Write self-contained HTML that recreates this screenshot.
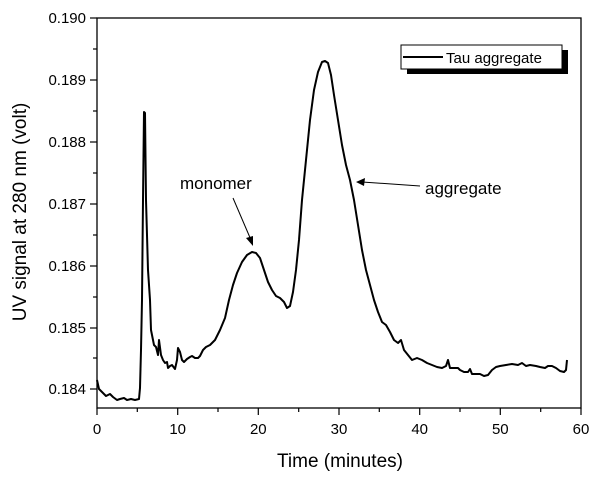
<!DOCTYPE html>
<html><head><style>body{margin:0;background:#fff}svg{display:block}</style></head><body>
<svg width="615" height="477" viewBox="0 0 615 477" xmlns="http://www.w3.org/2000/svg" font-family="Liberation Sans, Arial, sans-serif">
<rect x="97" y="18" width="484" height="390" fill="none" stroke="#000" stroke-width="1.3"/>
<g stroke="#000" stroke-width="1.2">
<line x1="97" y1="408" x2="97" y2="415"/><line x1="177.7" y1="408" x2="177.7" y2="415"/><line x1="258.3" y1="408" x2="258.3" y2="415"/><line x1="339" y1="408" x2="339" y2="415"/><line x1="419.7" y1="408" x2="419.7" y2="415"/><line x1="500.3" y1="408" x2="500.3" y2="415"/><line x1="581" y1="408" x2="581" y2="415"/>
<line x1="137.3" y1="408" x2="137.3" y2="412"/><line x1="218" y1="408" x2="218" y2="412"/><line x1="298.7" y1="408" x2="298.7" y2="412"/><line x1="379.3" y1="408" x2="379.3" y2="412"/><line x1="460" y1="408" x2="460" y2="412"/><line x1="540.7" y1="408" x2="540.7" y2="412"/>
<line x1="90" y1="18" x2="97" y2="18"/><line x1="90" y1="80" x2="97" y2="80"/><line x1="90" y1="142" x2="97" y2="142"/><line x1="90" y1="204" x2="97" y2="204"/><line x1="90" y1="266" x2="97" y2="266"/><line x1="90" y1="328" x2="97" y2="328"/><line x1="90" y1="389" x2="97" y2="389"/>
<line x1="93" y1="49" x2="97" y2="49"/><line x1="93" y1="111" x2="97" y2="111"/><line x1="93" y1="173" x2="97" y2="173"/><line x1="93" y1="235" x2="97" y2="235"/><line x1="93" y1="297" x2="97" y2="297"/><line x1="93" y1="358" x2="97" y2="358"/>
</g>
<g font-size="15" text-anchor="middle" fill="#000">
<text x="97" y="434">0</text><text x="177.7" y="434">10</text><text x="258.3" y="434">20</text><text x="339" y="434">30</text><text x="419.7" y="434">40</text><text x="500.3" y="434">50</text><text x="581" y="434">60</text>
</g>
<g font-size="15" text-anchor="end" fill="#000">
<text x="86" y="23">0.190</text><text x="86" y="85">0.189</text><text x="86" y="147">0.188</text><text x="86" y="209">0.187</text><text x="86" y="271">0.186</text><text x="86" y="333">0.185</text><text x="86" y="394">0.184</text>
</g>
<text x="340" y="467" font-size="19" text-anchor="middle">Time (minutes)</text>
<text transform="translate(26,212) rotate(-90)" font-size="19" text-anchor="middle">UV signal at 280 nm (volt)</text>
<polyline fill="none" stroke="#000" stroke-width="2" stroke-linejoin="round" points="97,380 99,389 103,393 106,396 108,395 110,394 113,397 117,400 120,399 124,398 127,400 131,399 135,400 139,399 140,388 141,350 142,300 143,200 144,112 145,113 146,200 148,270 150,300 151,330 153,340 154,345 156,347 158,355 159,340 161,355 163,360 165,363 167,362 168,368 170,366 172,365 175,369 177,360 178,348 180,352 182,360 184,362 187,359 190,357 192,356 195,358 198,358 200,356 203,350 206,347 210,345 215,340 220,330 225,318 229,300 233,285 237,273 242,262 247,255 252,252 256,253 260,258 264,270 268,282 272,290 276,296 280,298 284,302 287,308 290,306 293,292 296,270 299,240 302,200 306,160 310,120 314,90 318,72 322,62 325,61 328,63 331,75 334,95 338,120 342,145 346,165 350,180 354,200 358,225 362,250 366,270 370,285 374,300 378,312 382,322 386,325 390,332 394,340 398,343 401,340 404,350 408,355 412,360 417,358 422,360 427,363 432,365 437,367 442,368 446,366 448,360 450,368 454,368 458,368 460,370 464,372 468,372 470,369 472,374 476,374 480,374 484,376 488,375 492,370 496,367 500,366 506,365 512,364 518,365 522,363 526,366 530,365 536,366 540,367 545,368 548,366 552,366 556,368 560,371 564,372 566,370 567,360"/>
<text x="180" y="189" font-size="17">monomer</text>
<line x1="233" y1="198" x2="251" y2="240" stroke="#000" stroke-width="1"/>
<polygon points="253,246 246,238 253,236" fill="#000"/>
<text x="425" y="194" font-size="17">aggregate</text>
<line x1="420" y1="186" x2="362" y2="182" stroke="#000" stroke-width="1"/>
<polygon points="356,182 365,178 364,186" fill="#000"/>
<rect x="407" y="50" width="161" height="24" fill="#000"/>
<rect x="401" y="45" width="161" height="24" fill="#fff" stroke="#000" stroke-width="1"/>
<line x1="403" y1="57" x2="443" y2="57" stroke="#000" stroke-width="2"/>
<text x="446" y="63" font-size="15">Tau aggregate</text>
</svg>
</body></html>
